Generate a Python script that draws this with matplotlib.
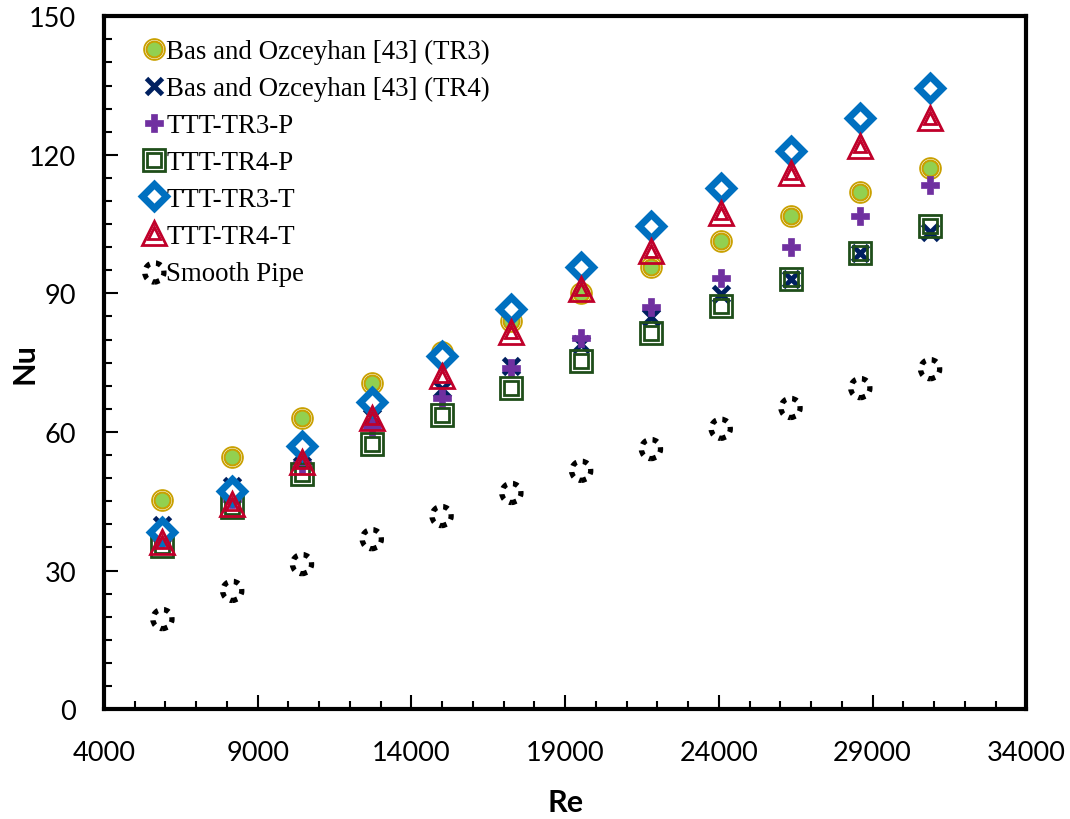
import matplotlib.pyplot as plt
from matplotlib.ticker import MultipleLocator

# Reynolds numbers of the test points
re = [5900, 8170, 10440, 12710, 14980, 17250, 19520, 21790, 24060, 26330, 28600, 30870]

# Nusselt numbers per configuration
nu_bas_tr3 = [45.3, 54.6, 63.0, 70.6, 77.3, 84.0, 90.1, 95.7, 101.4, 106.8, 112.0, 117.2]
nu_bas_tr4 = [39.9, 48.3, 55.4, 63.3, 69.3, 74.3, 79.1, 84.9, 89.9, 93.1, 98.8, 103.3]
nu_tr3_p = [37.0, 45.5, 53.0, 61.1, 67.4, 73.9, 80.4, 87.1, 93.4, 100.1, 106.8, 113.5]
nu_tr4_p = [35.3, 43.8, 50.9, 57.4, 63.7, 69.5, 75.4, 81.4, 87.3, 93.1, 98.8, 104.6]
nu_tr3_t = [38.3, 47.2, 57.0, 66.5, 76.5, 86.6, 95.7, 104.6, 112.9, 120.9, 128.0, 134.5]
nu_tr4_t = [36.2, 44.4, 53.5, 63.0, 72.1, 81.7, 91.0, 99.2, 107.4, 116.1, 122.0, 128.0]
nu_smooth = [19.5, 25.6, 31.4, 36.8, 41.8, 46.8, 51.6, 56.3, 60.7, 65.2, 69.5, 73.6]

labels = ["Bas and Ozceyhan [43] (TR3)", "Bas and Ozceyhan [43] (TR4)", "TTT-TR3-P",
          "TTT-TR4-P", "TTT-TR3-T", "TTT-TR4-T", "Smooth Pipe"]

gold = "#C9A000"
green = "#92D050"
navy = "#002060"
purple = "#7030A0"
dkgreen = "#1F4E1A"
blue = "#0070C0"
red = "#C0002A"

fig = plt.figure(figsize=(10.7, 8.2), dpi=100)
ax = fig.add_axes([0.0972, 0.134, 0.862, 0.845])

handles = []

# double ring circle
a = ax.plot(re, nu_bas_tr3, ls="none", marker="o", ms=15, mfc="white", mec=gold, mew=1.3)[0]
b = ax.plot(re, nu_bas_tr3, ls="none", marker="o", ms=11.5, mfc=green, mec=gold, mew=1.5)[0]
handles.append((a, b))

c = ax.plot(re, nu_bas_tr4, ls="none", marker="x", ms=12, mew=3.5, color=navy)[0]
handles.append(c)

d = ax.plot(re, nu_tr3_p, ls="none", marker="P", ms=13, mfc=purple, mec=purple, mew=0.5)[0]
handles.append(d)

# double line square
e = ax.plot(re, nu_tr4_p, ls="none", marker="s", ms=16.5, mfc="none", mec=dkgreen, mew=2)[0]
f = ax.plot(re, nu_tr4_p, ls="none", marker="s", ms=10.5, mfc="none", mec=dkgreen, mew=2)[0]
handles.append((e, f))

g = ax.plot(re, nu_tr3_t, ls="none", marker="D", ms=12.5, mfc="white", mec=blue, mew=5)[0]
handles.append(g)

# double line triangle
h = ax.plot(re, nu_tr4_t, ls="none", marker="^", ms=17, mfc="none", mec=red, mew=2)[0]
k = ax.plot(re, nu_tr4_t, ls="none", marker="^", ms=8.5, mfc="none", mec=red, mew=2)[0]
handles.append((h, k))

s = ax.scatter(re, nu_smooth, s=190, facecolors="none", edgecolors="black",
               linewidths=3.8, linestyle=(0, (1, 1.2)))
handles.append(s)

ax.legend(handles, labels, loc="upper left", bbox_to_anchor=(0.021, 1.0), frameon=False,
          prop={"family": "Liberation Serif", "size": 19.4}, handlelength=0.6,
          handletextpad=0.15, labelspacing=0.44, borderaxespad=0.45)

ax.set_xlim(4000, 34000)
ax.set_ylim(0, 150)
ax.xaxis.set_major_locator(MultipleLocator(5000, offset=4000))
ax.xaxis.set_minor_locator(MultipleLocator(1000))
ax.yaxis.set_major_locator(MultipleLocator(30))
ax.yaxis.set_minor_locator(MultipleLocator(5))
ax.tick_params(which="both", direction="in", top=False, right=False, width=1.5,
               labelsize=19.5)
ax.tick_params(which="major", length=10)
ax.tick_params(axis="x", which="major", pad=22)
ax.tick_params(axis="y", which="major", pad=20)
ax.tick_params(which="minor", length=6)
for lab in ax.get_xticklabels() + ax.get_yticklabels():
    lab.set_fontfamily("Lato")
for sp in ax.spines.values():
    sp.set_linewidth(3)

ax.set_xlabel("Re", fontsize=22, fontweight="bold", family="Lato", labelpad=17)
ax.set_ylabel("Nu", fontsize=22, fontweight="bold", family="Lato", va="center")
ax.yaxis.set_label_coords(-0.086, 0.5)

fig.savefig("out.png", dpi=100)
